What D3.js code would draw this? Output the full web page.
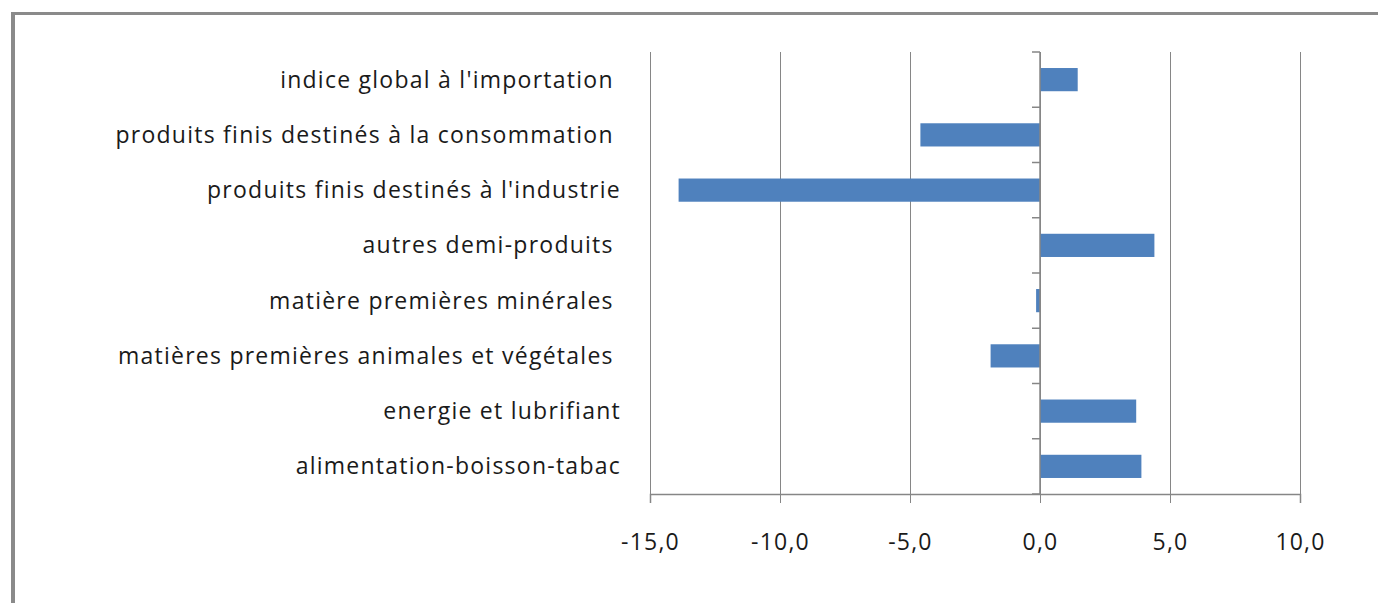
<!DOCTYPE html>
<html>
<head>
<meta charset="utf-8">
<script src="https://cdn.jsdelivr.net/npm/d3@7"></script>
<style>
  body { margin: 0; background: #fff; }
  text { font-family: "Open Sans", "DejaVu Sans", sans-serif; fill: #1a1a1a; }
</style>
</head>
<body>
<div id="chart"></div>
<script>
// categories top to bottom, with trailing spaces as in the source sheet
var categories = [
  "indice global à l'importation ",
  "produits finis destinés à la consommation ",
  "produits finis destinés à l'industrie",
  "autres demi-produits ",
  "matière premières minérales ",
  "matières premières animales et végétales ",
  "energie et lubrifiant",
  "alimentation-boisson-tabac"
];
var values = [1.45, -4.6, -13.9, 4.4, -0.15, -1.9, 3.7, 3.9];
var xTicks = [-15, -10, -5, 0, 5, 10];

var svgWidth = 1378;
var svgHeight = 603;

var margin = { top: 52, right: 78, bottom: 109, left: 650 };
var width = svgWidth - margin.left - margin.right;
var height = svgHeight - margin.top - margin.bottom;

var svg = d3.select("#chart")
  .append("svg")
  .attr("width", svgWidth)
  .attr("height", svgHeight);

// outer frame (only top and left edges are visible)
svg.append("line")
  .attr("x1", 11).attr("x2", svgWidth).attr("y1", 13.5).attr("y2", 13.5)
  .attr("stroke", "#8a8a8a").attr("stroke-width", 3);
svg.append("line")
  .attr("x1", 13).attr("x2", 13).attr("y1", 12).attr("y2", svgHeight)
  .attr("stroke", "#8a8a8a").attr("stroke-width", 4);

var chartGroup = svg.append("g")
  .attr("transform", `translate(${margin.left}, ${margin.top})`);

var xScale = d3.scaleLinear()
  .domain([-15, 10])
  .range([0, width]);

var yScale = d3.scaleBand()
  .domain(categories)
  .range([0, height])
  .paddingInner(0.58)
  .paddingOuter(0.29);

// vertical gridlines
chartGroup.selectAll(".grid")
  .data(xTicks)
  .enter()
  .append("line")
  .attr("x1", d => Math.round(xScale(d)) + 0.5)
  .attr("x2", d => Math.round(xScale(d)) + 0.5)
  .attr("y1", 0)
  .attr("y2", height)
  .attr("stroke", "#868686")
  .attr("stroke-width", 1);

// x axis
var bottomAxis = d3.axisBottom(xScale)
  .tickValues(xTicks)
  .tickSize(9)
  .tickPadding(31)
  .tickFormat(d => d3.format(".1f")(d).replace(".", ",").replace("−", "-"));

var xAxis = chartGroup.append("g")
  .attr("transform", `translate(0, ${height})`)
  .call(bottomAxis);
xAxis.select(".domain").attr("stroke", "#868686").attr("stroke-width", 1.5);
xAxis.selectAll(".tick line").attr("stroke", "#868686");
xAxis.selectAll(".tick text")
  .style("font-size", "23px")
  .style("letter-spacing", "1.2px")
  .style("fill", "#1a1a1a");

// bars
chartGroup.selectAll(".bar")
  .data(values)
  .enter()
  .append("rect")
  .attr("x", d => xScale(Math.min(0, d)))
  .attr("y", (d, i) => yScale(categories[i]))
  .attr("width", d => Math.abs(xScale(d) - xScale(0)))
  .attr("height", yScale.bandwidth())
  .attr("fill", "#4f81bd");

// category axis sits on zero, labels pushed to the left of the plot
var boundaries = d3.range(categories.length + 1).map(i => i * height / categories.length);
chartGroup.selectAll(".ctick")
  .data(boundaries)
  .enter()
  .append("line")
  .attr("x1", xScale(0) - 8)
  .attr("x2", xScale(0))
  .attr("y1", d => d)
  .attr("y2", d => d)
  .attr("stroke", "#868686")
  .attr("stroke-width", 1.5);
chartGroup.append("line")
  .attr("x1", xScale(0)).attr("x2", xScale(0))
  .attr("y1", 0).attr("y2", height)
  .attr("stroke", "#868686").attr("stroke-width", 1.5);

chartGroup.selectAll(".clabel")
  .data(categories)
  .enter()
  .append("text")
  .attr("x", -29)
  .attr("y", d => yScale(d) + yScale.bandwidth() / 2)
  .attr("dy", "0.35em")
  .attr("text-anchor", "end")
  .style("white-space", "pre")
  .style("font-size", "23px")
  .style("letter-spacing", "1.25px")
  .text(d => d);
</script>
</body>
</html>
